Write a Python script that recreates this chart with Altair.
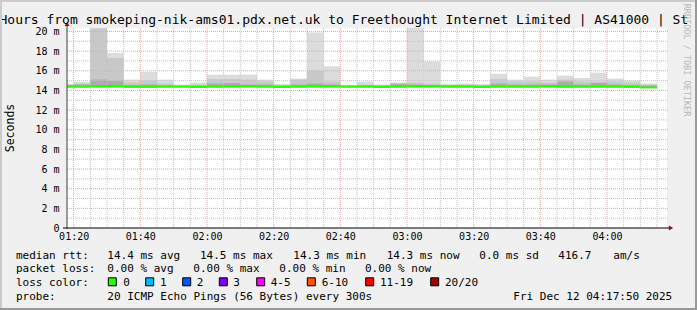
import altair as alt
import pandas as pd

# ---------------- data ----------------
interval_start = ["01:15", "01:20", "01:25", "01:30", "01:35", "01:40", "01:45", "01:50", "01:55",
                  "02:00", "02:05", "02:10", "02:15", "02:20", "02:25", "02:30", "02:35", "02:40",
                  "02:45", "02:50", "02:55", "03:00", "03:05", "03:10", "03:15", "03:20", "03:25",
                  "03:30", "03:35", "03:40", "03:45", "03:50", "03:55", "04:00", "04:05", "04:10"]
smoke_max = [14.65, 14.85, 20.35, 17.8, 15.1, 15.9, 15.1, 14.6, 14.8,
             15.6, 15.6, 15.6, 15.1, 14.65, 15.2, 19.9, 16.45, 14.55,
             14.9, 14.6, 14.8, 20.35, 16.95, 14.65, 14.7, 14.65, 15.7,
             15.1, 15.4, 15.1, 15.5, 15.25, 15.8, 15.2, 15.0, 14.7]
smoke_mid = [14.6, 14.7, 20.3, 17.3, 14.8, 15.0, 14.7, 14.5, 14.6,
             15.15, 15.15, 15.1, 14.9, 14.55, 15.1, 16.0, 14.9, 14.5,
             14.6, 14.55, 14.75, 14.8, 14.7, 14.55, 14.6, 14.55, 15.15,
             14.9, 14.9, 14.8, 15.1, 14.9, 14.9, 14.9, 14.8, 14.6]
smoke_dark = [14.55, 14.6, 15.1, 15.0, 14.55, 14.6, 14.5, 14.45, 14.5,
              14.7, 14.75, 14.6, 14.6, 14.5, 14.6, 14.7, 14.6, 14.45,
              14.5, 14.5, 14.65, 14.6, 14.55, 14.5, 14.5, 14.5, 14.7,
              14.6, 14.6, 14.6, 14.9, 14.6, 14.75, 14.6, 14.55, 14.5]
smoke_low = [14.3, 14.3, 14.3, 14.3, 14.25, 14.25, 14.3, 14.3, 14.3,
             14.3, 14.3, 14.3, 14.3, 14.25, 14.3, 14.3, 14.3, 14.3,
             14.3, 14.3, 14.3, 14.3, 14.3, 14.3, 14.3, 14.3, 14.3,
             14.3, 14.3, 14.3, 14.25, 14.3, 14.3, 14.3, 14.3, 14.3]
median_rtt = [14.4, 14.4, 14.45, 14.45, 14.4, 14.4, 14.4, 14.4, 14.35,
              14.4, 14.45, 14.45, 14.4, 14.35, 14.4, 14.45, 14.45, 14.4,
              14.4, 14.35, 14.4, 14.45, 14.45, 14.4, 14.4, 14.35, 14.4,
              14.4, 14.4, 14.45, 14.45, 14.4, 14.4, 14.4, 14.35, 14.3]

x_tick_labels = ["01:20", "01:40", "02:00", "02:20", "02:40", "03:00", "03:20", "03:40", "04:00"]
y_tick_values = [0, 2, 4, 6, 8, 10, 12, 14, 16, 18, 20]
y_tick_labels = ["0", "2 m", "4 m", "6 m", "8 m", "10 m", "12 m", "14 m", "16 m", "18 m", "20 m"]

title_text = "Hours from smokeping-nik-ams01.pdx.net.uk to Freethought Internet Limited | AS41000 | St"
legend_rows = [
    ["median rtt:", "14.4 ms avg", "14.5 ms max", "14.3 ms min", "14.3 ms now", "0.0 ms sd", "416.7", "am/s"],
    ["packet loss:", "0.00 % avg", "0.00 % max", "0.00 % min", "0.00 % now"],
    ["loss color:"],
    ["probe:", "20 ICMP Echo Pings (56 Bytes) every 300s", "Fri Dec 12 04:17:50 2025"],
]
loss_labels = ["0", "1", "2", "3", "4-5", "6-10", "11-19", "20/20"]
loss_colors = ["#26ff00", "#00b8ff", "#0059ff", "#7e00ff", "#ff00ff", "#ff5500", "#ff0000", "#a10000"]

# ---------------- layout (pixels, absolute in the 697x310 image) ----------------
PL, PT, W, H = 67, 28, 600, 200
legend_x = [
    [16, 107.3, 200, 293.3, 386.7, 479.3, 558.3, 613.3],
    [16, 107.3, 193.3, 279.3, 365],
    [16],
    [16, 107.3, 513.3],
]
legend_base = [258.5, 272.2, 285.9, 299.6]
box_x = [108.3, 145.7, 182.7, 219.3, 256.7, 307.3, 365.7, 430.7]
box_label_x = [123.3, 160, 196.7, 233.3, 270.7, 321.7, 380, 445]
FONT = "DejaVu Sans Mono"


def to_min(s):
    h, m = s.split(":")
    return int(h) * 60 + int(m)


df = pd.DataFrame({"start": [to_min(s) for s in interval_start],
                   "hi": smoke_max, "mid": smoke_mid, "dark": smoke_dark,
                   "lo": smoke_low, "med": median_rtt})
df["end"] = df["start"] + 5
one = pd.DataFrame({"k": [0]})  # single row for annotation marks

x_tick_values = [to_min(s) for s in x_tick_labels]
x_label_expr = "[" + ",".join("'%s'" % l for l in x_tick_labels) + "][indexof(" + str(x_tick_values) + ", datum.value)]"
y_label_expr = "[" + ",".join("'%s'" % l for l in y_tick_labels) + "][indexof(" + str(y_tick_values) + ", datum.value)]"

xs = alt.Scale(domain=[78, 258], nice=False, zero=False)
ys = alt.Scale(domain=[0, 20.35], nice=False, zero=False)
x_axis = alt.Axis(values=x_tick_values, labelExpr=x_label_expr, grid=False, domain=False, ticks=False,
                  labelPadding=3, labelFont=FONT, labelFontSize=10, labelColor="#000000", title=None,
                  labelFlush=False, labelOverlap=False)
y_axis = alt.Axis(values=y_tick_values, labelExpr=y_label_expr, grid=False, domain=False, ticks=False,
                  labelPadding=8, labelFont=FONT, labelFontSize=10, labelColor="#000000", title=None,
                  labelOverlap=False)


def X(f):
    return alt.X(f + ":Q", scale=xs, axis=x_axis)


def Y(f):
    return alt.Y(f + ":Q", scale=ys, axis=y_axis)


base = alt.Chart(df)
light = base.mark_rect(color="#dcdcdc", clip=True).encode(x=X("start"), x2="end", y=Y("lo"), y2="hi")
mid = base.mark_rect(color="#c8c8c8", clip=True).encode(x=X("start"), x2="end", y=Y("lo"), y2="mid")
dark = base.mark_rect(color="#ababab", clip=True).encode(x=X("start"), x2="end", y=Y("lo"), y2="dark")
median = base.mark_rule(color="#26ff00", strokeWidth=2, clip=True).encode(x=X("start"), x2="end", y=Y("med"))

# grid
minor_v = pd.DataFrame({"v": [m for m in range(80, 258, 5) if m not in x_tick_values]})
major_v = pd.DataFrame({"v": x_tick_values})
minor_h = pd.DataFrame({"v": [v for v in range(1, 21) if v % 2 == 1]})
major_h = pd.DataFrame({"v": y_tick_values[1:]})
g_minor_v = alt.Chart(minor_v).mark_rule(color="#c4c4c4", strokeDash=[1, 1], strokeWidth=1).encode(
    x=X("v"), y=alt.value(0), y2=alt.value(H))
g_major_v = alt.Chart(major_v).mark_rule(color="#f0a0a0", strokeDash=[1, 1], strokeWidth=1).encode(
    x=X("v"), y=alt.value(0), y2=alt.value(H))
g_minor_h = alt.Chart(minor_h).mark_rule(color="#c4c4c4", strokeDash=[1, 1], strokeWidth=1).encode(
    y=Y("v"), x=alt.value(0), x2=alt.value(W + 1))
g_major_h = alt.Chart(major_h).mark_rule(color="#f0a0a0", strokeDash=[1, 1], strokeWidth=1).encode(
    y=Y("v"), x=alt.value(0), x2=alt.value(W + 1))

# axis lines and arrows
y_line = alt.Chart(one).mark_rule(color="#404040", strokeWidth=1).encode(
    x=alt.value(0), y=alt.value(-5), y2=alt.value(H + 1))
x_line = alt.Chart(one).mark_rule(color="#000000", strokeWidth=1).encode(
    x=alt.value(-4), x2=alt.value(W + 2), y=alt.value(H))
arrow_up = alt.Chart(one).mark_point(shape="triangle-up", filled=True, size=24, color="#8b1010", opacity=1).encode(
    x=alt.value(0), y=alt.value(-4))
arrow_right = alt.Chart(one).mark_point(shape="triangle-right", filled=True, size=24, color="#8b1010", opacity=1).encode(
    x=alt.value(W + 4), y=alt.value(H))

# frame (image border shading)
frame = [
    alt.Chart(one).mark_rule(color="#cbcbcb", strokeWidth=2).encode(x=alt.value(-PL), x2=alt.value(697 - PL), y=alt.value(1 - PT)),
    alt.Chart(one).mark_rule(color="#cbcbcb", strokeWidth=2).encode(x=alt.value(1 - PL), y=alt.value(-PT), y2=alt.value(310 - PT)),
    alt.Chart(one).mark_rule(color="#999999", strokeWidth=2).encode(x=alt.value(-PL), x2=alt.value(697 - PL), y=alt.value(309 - PT)),
    alt.Chart(one).mark_rule(color="#999999", strokeWidth=2).encode(x=alt.value(696 - PL), y=alt.value(-PT), y2=alt.value(310 - PT)),
]

# texts
rows = []
for r, (texts, xs_) in enumerate(zip(legend_rows, legend_x)):
    for t, px in zip(texts, xs_):
        rows.append({"px": px - PL, "py": legend_base[r] - PT, "t": t})
for lab, px in zip(loss_labels, box_label_x):
    rows.append({"px": px - PL, "py": legend_base[2] - PT, "t": lab})
legend_df = pd.DataFrame(rows)
legend_text = alt.Chart(legend_df).mark_text(font=FONT, fontSize=11, align="left", baseline="alphabetic",
                                             color="#000000").encode(
    x=alt.X("px:Q", scale=None, axis=None), y=alt.Y("py:Q", scale=None, axis=None), text="t:N")

box_df = pd.DataFrame({"bx": [b - PL for b in box_x], "col": loss_colors})
box_df["bx2"] = box_df["bx"] + 8
box_df["by"] = 277.8 - PT
box_df["by2"] = 285.8 - PT
boxes = alt.Chart(box_df).mark_rect(stroke="#000000", strokeWidth=1).encode(
    x=alt.X("bx:Q", scale=None, axis=None), x2="bx2", y=alt.Y("by:Q", scale=None, axis=None), y2="by2",
    color=alt.Color("col:N", scale=None))

title = alt.Chart(one).mark_text(font=FONT, fontSize=13, align="left", baseline="alphabetic", color="#000000").encode(
    x=alt.value(-PL - 0.5), y=alt.value(24 - PT), text=alt.value(title_text))
ytitle = alt.Chart(one).mark_text(font=FONT, fontSize=11.5, align="center", baseline="middle", angle=270,
                                  color="#000000").encode(
    x=alt.value(10.5 - PL), y=alt.value(128 - PT), text=alt.value("Seconds"))
rrd = alt.Chart(one).mark_text(font=FONT, fontSize=8.5, align="center", baseline="middle", angle=90,
                               color="#b8b8b8").encode(
    x=alt.value(687 - PL), y=alt.value(60 - PT), text=alt.value("RRDTOOL / TOBI OETIKER"))

chart = alt.layer(
    light, mid, dark,
    g_minor_v, g_minor_h, g_major_v, g_major_h,
    median, y_line, x_line, arrow_up, arrow_right,
    legend_text, boxes, title, ytitle, rrd, *frame
).properties(
    width=W, height=H,
    padding={"left": PL, "top": PT, "right": 697 - PL - W, "bottom": 310 - PT - H},
    autosize=alt.AutoSizeParams(type="none"),
    background="#f0f0f0",
).configure_view(stroke=None, fill="#ffffff")

chart.save("out.html", embed_options={"renderer": "svg", "actions": False})
